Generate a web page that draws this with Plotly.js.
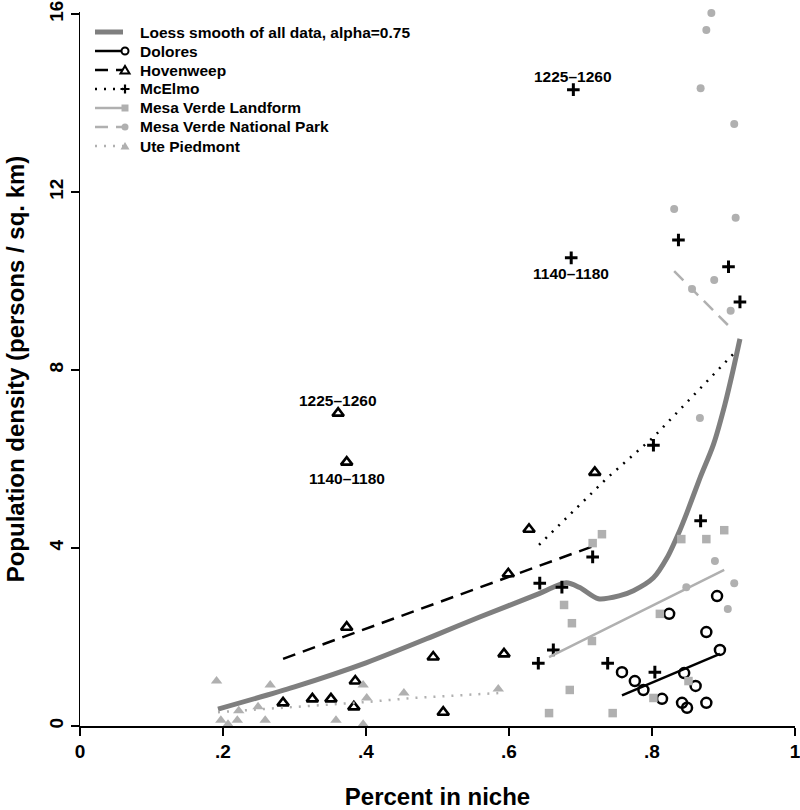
<!DOCTYPE html>
<html>
<head>
<meta charset="utf-8">
<script src="https://cdn.plot.ly/plotly-3.0.1.min.js"></script>
<style>html,body{margin:0;padding:0;background:#fff;}</style>
</head>
<body>
<div id="chart" style="width:800px;height:810px;"></div>
<script>
// ---- data ----
const doloresX = [0.824, 0.891, 0.876, 0.895, 0.845, 0.758, 0.776, 0.788, 0.861, 0.814, 0.842, 0.849, 0.876];
const doloresY = [2.52, 2.92, 2.11, 1.71, 1.19, 1.21, 1.01, 0.81, 0.90, 0.61, 0.52, 0.41, 0.52];
const doloresFitX = [0.758, 0.895];
const doloresFitY = [0.69, 1.62];

const hovenX = [0.361, 0.373, 0.373, 0.494, 0.385, 0.284, 0.325, 0.351, 0.383, 0.508, 0.593, 0.599, 0.628, 0.720];
const hovenY = [7.03, 5.93, 2.22, 1.55, 1.01, 0.52, 0.61, 0.61, 0.43, 0.31, 1.62, 3.42, 4.42, 5.70];
const hovenFitX = [0.284, 0.716];
const hovenFitY = [1.51, 4.03];

const mcelmoX = [0.690, 0.687, 0.837, 0.907, 0.923, 0.802, 0.868, 0.717, 0.643, 0.674, 0.662, 0.641, 0.738, 0.804];
const mcelmoY = [14.30, 10.52, 10.92, 10.32, 9.53, 6.31, 4.61, 3.80, 3.21, 3.12, 1.71, 1.41, 1.41, 1.21];
const mcelmoFitX = [0.642, 0.737, 0.802, 0.916];
const mcelmoFitY = [4.07, 5.57, 6.49, 8.40];

const mvlX = [0.730, 0.717, 0.677, 0.688, 0.716, 0.685, 0.656, 0.745, 0.811, 0.802, 0.841, 0.876, 0.901, 0.851];
const mvlY = [4.31, 4.11, 2.72, 2.31, 1.91, 0.81, 0.29, 0.29, 2.52, 0.63, 4.20, 4.20, 4.40, 1.01];
const mvlFitX = [0.656, 0.901];
const mvlFitY = [1.55, 3.51];

const mvnpX = [0.883, 0.876, 0.868, 0.915, 0.831, 0.917, 0.887, 0.856, 0.910, 0.867, 0.888, 0.848, 0.915, 0.906];
const mvnpY = [16.02, 15.64, 14.33, 13.53, 11.62, 11.42, 10.02, 9.82, 9.33, 6.92, 3.71, 3.12, 3.21, 2.63];
const mvnpFitX = [0.831, 0.913];
const mvnpFitY = [10.22, 8.90];

const uteX = [0.191, 0.266, 0.222, 0.249, 0.197, 0.207, 0.220, 0.259, 0.358, 0.396, 0.401, 0.396, 0.453, 0.585];
const uteY = [1.01, 0.92, 0.34, 0.43, 0.13, 0.04, 0.13, 0.13, 0.13, 0.92, 0.63, 0.04, 0.74, 0.83];
const uteFitX = [0.193, 0.280, 0.401, 0.466, 0.585];
const uteFitY = [0.31, 0.40, 0.54, 0.63, 0.74];

const loessX = [0.193, 0.30, 0.40, 0.50, 0.559, 0.643, 0.680, 0.699, 0.725, 0.755, 0.774, 0.802, 0.821, 0.839, 0.849, 0.867, 0.886, 0.902, 0.913, 0.923];
const loessY = [0.38, 0.88, 1.42, 2.06, 2.45, 2.98, 3.22, 3.11, 2.86, 2.93, 3.04, 3.33, 3.78, 4.40, 4.80, 5.57, 6.33, 7.23, 7.97, 8.70];

const seriesNames = ["Loess smooth of all data, alpha=0.75", "Dolores", "Hovenweep", "McElmo",
  "Mesa Verde Landform", "Mesa Verde National Park", "Ute Piedmont"];

// period labels attached to points
const labelText = ["1225\u20131260", "1140\u20131180", "1225\u20131260", "1140\u20131180"];
const labelX = [hovenX[0], hovenX[1], mcelmoX[0], mcelmoX[1]];
const labelY = [hovenY[0], hovenY[1], mcelmoY[0], mcelmoY[1]];
const labelAbove = [true, false, true, false];

const xTickVals = [0, 0.2, 0.4, 0.6, 0.8, 1];
const xTickText = ["0", ".2", ".4", ".6", ".8", "1"];
const yTickVals = [0, 4, 8, 12, 16];
const yTickText = ["0", "4", "8", "12", "16"];

// ---- styling ----
const FONT = "Liberation Sans, Arial, Helvetica, sans-serif";
const GRAY = "#b0b0b0";
const DARKGRAY = "#7f7f7f";
const M = {l: 80, r: 5, t: 12, b: 84};
const PW = 800 - M.l - M.r, PH = 810 - M.t - M.b;
const YPX = 44.5;                          // pixels per y unit
const YTOP = PH / YPX;                     // a hair above 16 so the top point stays visible
const pxX = p => (p - M.l) / PW;           // page pixel -> paper x
const pxY = p => (810 - M.b - p) / PH;     // page pixel -> paper y

const lineStyles = [
  {color: DARKGRAY, width: 5},
  {color: "black", width: 2.5},
  {color: "black", width: 2.5, dash: "13px,8px"},
  {color: "black", width: 2.5, dash: "2px,7px"},
  {color: GRAY, width: 2.5},
  {color: GRAY, width: 2.5, dash: "13px,8px"},
  {color: GRAY, width: 2.5, dash: "2px,7px"}
];
const markerStyles = [null,
  {symbol: "circle-open", size: 10, color: "black", line: {width: 2.5, color: "black"}},
  {symbol: "triangle-up-open", size: 10, color: "black", line: {width: 2.6, color: "black"}},
  {symbol: "cross-thin-open", size: 9, color: "black", line: {width: 3, color: "black"}},
  {symbol: "square", size: 8.5, color: GRAY},
  {symbol: "circle", size: 8, color: GRAY},
  {symbol: "triangle-up", size: 10, color: GRAY}
];

const pts = [null,
  [doloresX, doloresY, doloresFitX, doloresFitY],
  [hovenX, hovenY, hovenFitX, hovenFitY],
  [mcelmoX, mcelmoY, mcelmoFitX, mcelmoFitY],
  [mvlX, mvlY, mvlFitX, mvlFitY],
  [mvnpX, mvnpY, mvnpFitX, mvnpFitY],
  [uteX, uteY, uteFitX, uteFitY]
];

const traces = [];
traces.push({x: loessX, y: loessY, mode: "lines", line: Object.assign({shape: "spline", smoothing: 0.8}, lineStyles[0]),
  name: seriesNames[0], hoverinfo: "skip"});
for (let i = 1; i < 7; i++) {
  const [px, py, fx, fy] = pts[i];
  traces.push({x: fx, y: fy, mode: "lines", line: lineStyles[i], name: seriesNames[i] + " fit", hoverinfo: "skip"});
  traces.push({x: px, y: py, mode: "markers", marker: markerStyles[i], name: seriesNames[i], cliponaxis: false});
}

// ---- hand-built legend (R style: tight rows) ----
const legRow0 = 32, legStep = 19, legLine0 = 95, legLine1 = 123, legMark = 125, legText = 138;
const shapes = [];
const annotations = [];
seriesNames.forEach((nm, i) => {
  const yy = pxY(legRow0 + i * legStep);
  const l = lineStyles[i];
  const lx1 = i === 0 ? legLine1 : legMark - 2;
  shapes.push({type: "line", xref: "paper", yref: "paper", x0: pxX(legLine0), x1: pxX(lx1), y0: yy, y1: yy,
    line: {color: l.color, width: l.width, dash: l.dash || "solid"}});
  const common = {xref: "paper", yref: "paper", xsizemode: "pixel", ysizemode: "pixel", xanchor: pxX(legMark), yanchor: yy};
  if (i === 1) shapes.push(Object.assign({type: "circle", x0: -3.5, x1: 3.5, y0: -3.5, y1: 3.5, fillcolor: "white", line: {color: "black", width: 2}}, common));
  if (i === 2) shapes.push(Object.assign({type: "path", path: "M-4.5,-3.5 L4.5,-3.5 L0,4 Z", fillcolor: "white", line: {color: "black", width: 2}}, common));
  if (i === 3) shapes.push(Object.assign({type: "path", path: "M-4.5,0 L4.5,0 M0,-4.5 L0,4.5", line: {color: "black", width: 2.2}}, common));
  if (i === 4) shapes.push(Object.assign({type: "rect", x0: -3.5, x1: 3.5, y0: -3.5, y1: 3.5, fillcolor: GRAY, line: {width: 0}}, common));
  if (i === 5) shapes.push(Object.assign({type: "circle", x0: -3.5, x1: 3.5, y0: -3.5, y1: 3.5, fillcolor: GRAY, line: {width: 0}}, common));
  if (i === 6) shapes.push(Object.assign({type: "path", path: "M-4.5,-3.5 L4.5,-3.5 L0,4 Z", fillcolor: GRAY, line: {width: 0}}, common));
  annotations.push({xref: "paper", yref: "paper", x: pxX(legText), y: yy, xanchor: "left", yanchor: "middle",
    text: nm, showarrow: false, font: {family: FONT, size: 15.5, color: "black", weight: "bold"}});
});

labelText.forEach((t, i) => annotations.push({
  x: labelX[i], y: labelY[i], xref: "x", yref: "y", text: t, showarrow: false,
  yshift: labelAbove[i] ? 13 : -16,
  font: {family: FONT, size: 15.5, color: "black", weight: "bold"}
}));

const axisCommon = {
  showline: true, linecolor: "black", linewidth: 1.5, ticks: "outside", ticklen: 8, tickwidth: 1.5,
  tickcolor: "black", showgrid: false, zeroline: false, mirror: false, ticklabeloverflow: "allow",
  tickfont: {family: FONT, size: 19, color: "black", weight: "bold"}
};

const layout = {
  width: 800, height: 810,
  margin: M,
  paper_bgcolor: "white", plot_bgcolor: "white",
  font: {family: FONT, color: "black"},
  showlegend: false,
  xaxis: Object.assign({}, axisCommon, {range: [0, 1], tickvals: xTickVals, ticktext: xTickText,
    title: {text: "Percent in niche", font: {family: FONT, size: 24, color: "black", weight: "bold"}, standoff: 28}}),
  yaxis: Object.assign({}, axisCommon, {range: [0, YTOP], tickvals: yTickVals, ticktext: yTickText, tickangle: -90,
    title: {text: "Population density (persons / sq. km)", font: {family: FONT, size: 24, color: "black", weight: "bold"}, standoff: 14}}),
  shapes: shapes,
  annotations: annotations
};

Plotly.newPlot("chart", traces, layout, {displayModeBar: false, staticPlot: true});
</script>
</body>
</html>
